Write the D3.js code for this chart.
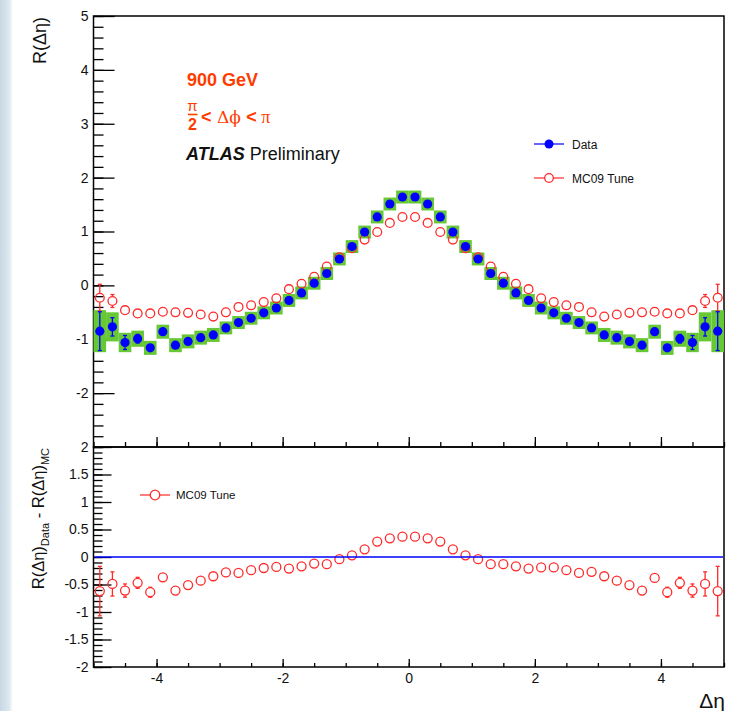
<!DOCTYPE html>
<html>
<head>
<meta charset="utf-8">
<script src="https://cdn.jsdelivr.net/npm/d3@7"></script>
<style>
  html, body { margin: 0; padding: 0; background: #ffffff; }
  svg { display: block; }
  text { font-family: "Liberation Sans", Arial, Helvetica, sans-serif; }
</style>
</head>
<body>
<svg id="chart" width="742" height="711"></svg>
<script>
// ---------------- data ----------------
const binCenters = [-4.9, -4.7, -4.5, -4.3, -4.1, -3.9, -3.7, -3.5, -3.3, -3.1,
  -2.9, -2.7, -2.5, -2.3, -2.1, -1.9, -1.7, -1.5, -1.3, -1.1,
  -0.9, -0.7, -0.5, -0.3, -0.1, 0.1, 0.3, 0.5, 0.7, 0.9,
  1.1, 1.3, 1.5, 1.7, 1.9, 2.1, 2.3, 2.5, 2.7, 2.9,
  3.1, 3.3, 3.5, 3.7, 3.9, 4.1, 4.3, 4.5, 4.7, 4.9];
const binWidth = 0.2;

const dataValues = [-0.85, -0.77, -1.06, -0.99, -1.16, -0.86, -1.11, -1.04, -0.97, -0.92,
  -0.79, -0.69, -0.61, -0.51, -0.42, -0.28, -0.14, 0.04, 0.22, 0.49,
  0.72, 0.99, 1.27, 1.51, 1.64, 1.64, 1.51, 1.27, 0.99, 0.72,
  0.49, 0.22, 0.04, -0.14, -0.28, -0.42, -0.51, -0.61, -0.69, -0.79,
  -0.92, -0.97, -1.04, -1.11, -0.86, -1.16, -0.99, -1.06, -0.77, -0.85];
const dataStatErr = [0.36, 0.17, 0.13, 0.08, 0.05, 0.04, 0.03, 0.03, 0.03, 0.02,
  0.02, 0.02, 0.02, 0.02, 0.02, 0.02, 0.02, 0.02, 0.02, 0.02,
  0.02, 0.02, 0.02, 0.02, 0.02, 0.02, 0.02, 0.02, 0.02, 0.02,
  0.02, 0.02, 0.02, 0.02, 0.02, 0.02, 0.02, 0.02, 0.02, 0.02,
  0.02, 0.03, 0.03, 0.03, 0.04, 0.05, 0.08, 0.13, 0.17, 0.36];
const dataSystErr = [0.39, 0.27, 0.18, 0.15, 0.13, 0.13, 0.13, 0.13, 0.13, 0.13,
  0.12, 0.12, 0.12, 0.12, 0.12, 0.12, 0.12, 0.12, 0.12, 0.12,
  0.12, 0.12, 0.12, 0.12, 0.12, 0.12, 0.12, 0.12, 0.12, 0.12,
  0.12, 0.12, 0.12, 0.12, 0.12, 0.12, 0.12, 0.12, 0.12, 0.12,
  0.13, 0.13, 0.13, 0.13, 0.13, 0.13, 0.15, 0.18, 0.27, 0.39];

const mcValues = [-0.23, -0.29, -0.46, -0.52, -0.52, -0.49, -0.50, -0.51, -0.54, -0.58,
  -0.50, -0.40, -0.37, -0.31, -0.24, -0.07, 0.03, 0.16, 0.35, 0.52,
  0.69, 0.85, 0.99, 1.16, 1.27, 1.27, 1.16, 0.99, 0.85, 0.69,
  0.52, 0.35, 0.16, 0.03, -0.07, -0.24, -0.31, -0.37, -0.40, -0.50,
  -0.58, -0.54, -0.51, -0.50, -0.49, -0.52, -0.52, -0.46, -0.29, -0.23];
const mcErr = [0.25, 0.12, 0.05, 0.04, 0.03, 0.02, 0.02, 0.02, 0.02, 0.02,
  0.02, 0.02, 0.02, 0.02, 0.02, 0.02, 0.02, 0.02, 0.02, 0.02,
  0.02, 0.02, 0.02, 0.02, 0.02, 0.02, 0.02, 0.02, 0.02, 0.02,
  0.02, 0.02, 0.02, 0.02, 0.02, 0.02, 0.02, 0.02, 0.02, 0.02,
  0.02, 0.02, 0.02, 0.02, 0.02, 0.03, 0.04, 0.05, 0.12, 0.25];

const diffValues = [-0.62, -0.49, -0.61, -0.47, -0.64, -0.37, -0.61, -0.51, -0.43, -0.35,
  -0.28, -0.29, -0.24, -0.20, -0.18, -0.21, -0.17, -0.12, -0.13, -0.04,
  0.03, 0.14, 0.28, 0.34, 0.37, 0.37, 0.34, 0.28, 0.14, 0.03,
  -0.04, -0.13, -0.13, -0.17, -0.21, -0.19, -0.19, -0.24, -0.29, -0.27,
  -0.35, -0.43, -0.51, -0.61, -0.38, -0.64, -0.47, -0.61, -0.49, -0.62];
const diffErr = [0.45, 0.22, 0.12, 0.10, 0.09, 0.06, 0.05, 0.04, 0.04, 0.03,
  0.03, 0.03, 0.03, 0.03, 0.03, 0.03, 0.03, 0.03, 0.03, 0.03,
  0.03, 0.03, 0.03, 0.03, 0.03, 0.03, 0.03, 0.03, 0.03, 0.03,
  0.03, 0.03, 0.03, 0.03, 0.03, 0.03, 0.03, 0.03, 0.03, 0.03,
  0.03, 0.04, 0.04, 0.05, 0.06, 0.09, 0.10, 0.12, 0.22, 0.45];

const xTickLabels = [-4, -2, 0, 2, 4];
const topYTickLabels = [5, 4, 3, 2, 1, 0, -1, -2];
const botYTickLabels = [2, 1.5, 1, 0.5, 0, -0.5, -1, -1.5, -2];

// ---------------- setup ----------------
const svg = d3.select("#chart");
const W = 742, H = 711;
const left = 93.5, right = 724;
const topT = 16, topB = 447;
const botT = 447, botB = 667;
const RED = "#ff2a2a", BLUE = "#0000ff", GREEN = "#66c834", ORANGE = "#ff3c00";

// background strip at left edge
const defs = svg.append("defs");
const grad = defs.append("linearGradient").attr("id", "edge").attr("x1", "0").attr("x2", "1").attr("y1", "0").attr("y2", "0");
grad.append("stop").attr("offset", "0%").attr("stop-color", "#c8d8e4");
grad.append("stop").attr("offset", "70%").attr("stop-color", "#dde8ef");
grad.append("stop").attr("offset", "100%").attr("stop-color", "#ffffff");
svg.append("rect").attr("x", 0).attr("y", 0).attr("width", 13).attr("height", H).attr("fill", "url(#edge)");

const x = d3.scaleLinear().domain([-5, 5]).range([left, right]);
const yT = d3.scaleLinear().domain([-3, 5]).range([topB, topT]);
const yB = d3.scaleLinear().domain([-2, 2]).range([botB, botT]);

function fmt(d) { return String(d); }

// ---------------- top panel axes ----------------
const gTop = svg.append("g");
gTop.append("g").attr("transform", `translate(${left},0)`)
  .call(d3.axisLeft(yT).tickValues(d3.range(-30, 51, 2).map(v => v / 10)).tickSize(-10).tickFormat(""))
  .call(g => g.select(".domain").remove());
gTop.append("g").attr("transform", `translate(${left},0)`)
  .call(d3.axisLeft(yT).tickValues(topYTickLabels).tickSize(-21).tickPadding(5).tickFormat(fmt))
  .call(g => g.select(".domain").remove());
gTop.append("g").attr("transform", `translate(0,${topB})`)
  .call(d3.axisBottom(x).tickValues(d3.range(-10, 11, 1).map(v => v / 2)).tickSize(-5).tickFormat(""))
  .call(g => g.select(".domain").remove());
gTop.append("g").attr("transform", `translate(0,${topB})`)
  .call(d3.axisBottom(x).tickValues(xTickLabels).tickSize(-10).tickFormat(""))
  .call(g => g.select(".domain").remove());

// ---------------- bottom panel axes ----------------
const gBot = svg.append("g");
gBot.append("g").attr("transform", `translate(${left},0)`)
  .call(d3.axisLeft(yB).tickValues(d3.range(-20, 21, 1).map(v => v / 10)).tickSize(-9).tickFormat(""))
  .call(g => g.select(".domain").remove());
gBot.append("g").attr("transform", `translate(${left},0)`)
  .call(d3.axisLeft(yB).tickValues(botYTickLabels).tickSize(-18).tickPadding(5).tickFormat(fmt))
  .call(g => g.select(".domain").remove());
gBot.append("g").attr("transform", `translate(0,${botB})`)
  .call(d3.axisBottom(x).tickValues(d3.range(-10, 11, 1).map(v => v / 2)).tickSize(-4).tickFormat(""))
  .call(g => g.select(".domain").remove());
gBot.append("g").attr("transform", `translate(0,${botB})`)
  .call(d3.axisBottom(x).tickValues(xTickLabels).tickSize(-8).tickPadding(6).tickFormat(fmt))
  .call(g => g.select(".domain").remove());

svg.selectAll(".tick line").attr("stroke", "#000").attr("stroke-width", 1.3);
svg.selectAll(".tick text").attr("fill", "#111").attr("font-size", "14px")
  .attr("font-family", "'Liberation Sans', Arial, sans-serif");

// frames
svg.append("rect").attr("x", left).attr("y", topT).attr("width", right - left).attr("height", topB - topT)
  .attr("fill", "none").attr("stroke", "#000").attr("stroke-width", 1.5);
svg.append("rect").attr("x", left).attr("y", botT).attr("width", right - left).attr("height", botB - botT)
  .attr("fill", "none").attr("stroke", "#000").attr("stroke-width", 1.5);

// ---------------- top panel marks ----------------
const pts = binCenters.map((c, i) => ({
  c, d: dataValues[i], ds: dataStatErr[i], sy: dataSystErr[i],
  m: mcValues[i], me: mcErr[i], r: diffValues[i], re: diffErr[i]
}));

const marks = svg.append("g");
marks.selectAll("rect.syst").data(pts).join("rect").attr("class", "syst")
  .attr("x", p => x(p.c - binWidth / 2)).attr("width", p => x(p.c + binWidth / 2) - x(p.c - binWidth / 2))
  .attr("y", p => yT(p.d + p.sy)).attr("height", p => yT(p.d - p.sy) - yT(p.d + p.sy))
  .attr("fill", GREEN);

function errBars(g, data, sx, sy, valKey, errKey, color, r, capW) {
  const gg = g.append("g").attr("stroke", color).attr("stroke-width", 1.3);
  data.forEach(p => {
    const cx = sx(p.c), cy = sy(p[valKey]);
    const yHi = sy(p[valKey] + p[errKey]), yLo = sy(p[valKey] - p[errKey]);
    if (cy - yHi > r) {
      gg.append("line").attr("x1", cx).attr("x2", cx).attr("y1", yHi).attr("y2", cy - r);
      gg.append("line").attr("x1", cx - capW).attr("x2", cx + capW).attr("y1", yHi).attr("y2", yHi);
    }
    if (yLo - cy > r) {
      gg.append("line").attr("x1", cx).attr("x2", cx).attr("y1", cy + r).attr("y2", yLo);
      gg.append("line").attr("x1", cx - capW).attr("x2", cx + capW).attr("y1", yLo).attr("y2", yLo);
    }
  });
}

errBars(marks, pts, x, yT, "m", "me", RED, 4.6, 2);
marks.selectAll("circle.mc").data(pts).join("circle").attr("class", "mc")
  .attr("cx", p => x(p.c)).attr("cy", p => yT(p.m)).attr("r", 4.4)
  .attr("fill", "none").attr("stroke", RED).attr("stroke-width", 1.3);

errBars(marks, pts, x, yT, "d", "ds", BLUE, 4, 2);
marks.selectAll("circle.data").data(pts).join("circle").attr("class", "data")
  .attr("cx", p => x(p.c)).attr("cy", p => yT(p.d)).attr("r", 4.6)
  .attr("fill", BLUE);

// ---------------- bottom panel marks ----------------
svg.append("line").attr("x1", x(-5) + 1).attr("x2", x(5) - 1).attr("y1", yB(0)).attr("y2", yB(0))
  .attr("stroke", BLUE).attr("stroke-width", 1.4);
errBars(marks, pts, x, yB, "r", "re", RED, 4.6, 2);
marks.selectAll("circle.diff").data(pts).join("circle").attr("class", "diff")
  .attr("cx", p => x(p.c)).attr("cy", p => yB(p.r)).attr("r", 4.5)
  .attr("fill", "none").attr("stroke", RED).attr("stroke-width", 1.3);

// ---------------- texts ----------------
svg.append("text").attr("transform", "translate(46,17) rotate(-90)").attr("text-anchor", "end")
  .attr("font-size", "18px").attr("fill", "#111").text("R(Δη)");

const yl2 = svg.append("text").attr("transform", "translate(44,448) rotate(-90)").attr("text-anchor", "end")
  .attr("font-size", "16.5px").attr("fill", "#111");
yl2.append("tspan").text("R(Δη)");
yl2.append("tspan").attr("font-size", "11px").attr("dy", 5).text("Data");
yl2.append("tspan").attr("dy", -5).text(" - R(Δη)");
yl2.append("tspan").attr("font-size", "11px").attr("dy", 5).text("MC");

svg.append("text").attr("x", 725).attr("y", 708).attr("text-anchor", "end")
  .attr("font-family", "'Liberation Serif', 'Times New Roman', serif").attr("font-size", "21px")
  .attr("fill", "#111").text("Δη");

svg.append("text").attr("x", 187).attr("y", 86).attr("font-size", "18px").attr("font-weight", "bold")
  .attr("fill", ORANGE).text("900 GeV");

svg.append("text").attr("x", 192.5).attr("y", 111).attr("text-anchor", "middle")
  .attr("font-family", "'Liberation Serif', serif").attr("font-size", "15px").attr("fill", ORANGE).text("π");
svg.append("line").attr("x1", 188).attr("x2", 197.5).attr("y1", 114.5).attr("y2", 114.5)
  .attr("stroke", ORANGE).attr("stroke-width", 1.6);
svg.append("text").attr("x", 192.5).attr("y", 130).attr("text-anchor", "middle")
  .attr("font-size", "16px").attr("font-weight", "bold").attr("fill", ORANGE).text("2");
const ineq = svg.append("text").attr("x", 201).attr("y", 123).attr("fill", ORANGE).attr("font-size", "18px");
ineq.append("tspan").attr("font-weight", "bold").text("<");
ineq.append("tspan").attr("font-family", "'DejaVu Serif', 'Liberation Serif', serif").attr("font-size", "17px").text(" Δϕ ");
ineq.append("tspan").attr("font-weight", "bold").text("<");
ineq.append("tspan").attr("font-family", "'Liberation Serif', serif").text(" π");

const atl = svg.append("text").attr("x", 186).attr("y", 160).attr("font-size", "18px").attr("fill", "#111");
atl.append("tspan").attr("font-weight", "bold").attr("font-style", "italic").text("ATLAS");
atl.append("tspan").text(" Preliminary");

const leg = svg.append("g");
leg.append("line").attr("x1", 534).attr("x2", 564).attr("y1", 144).attr("y2", 144).attr("stroke", BLUE).attr("stroke-width", 1.2);
leg.append("circle").attr("cx", 549).attr("cy", 144).attr("r", 4.5).attr("fill", BLUE);
leg.append("text").attr("x", 572).attr("y", 148.5).attr("font-size", "12px").attr("fill", "#111").text("Data");
leg.append("line").attr("x1", 534).attr("x2", 564).attr("y1", 178).attr("y2", 178).attr("stroke", RED).attr("stroke-width", 1.2);
leg.append("circle").attr("cx", 549).attr("cy", 178).attr("r", 4.3).attr("fill", "#fff").attr("stroke", RED).attr("stroke-width", 1.3);
leg.append("text").attr("x", 572).attr("y", 182.5).attr("font-size", "12px").attr("fill", "#111").text("MC09 Tune");

leg.append("line").attr("x1", 140).attr("x2", 170).attr("y1", 495).attr("y2", 495).attr("stroke", RED).attr("stroke-width", 1.2);
leg.append("circle").attr("cx", 155).attr("cy", 495).attr("r", 4.8).attr("fill", "#fff").attr("stroke", RED).attr("stroke-width", 1.3);
leg.append("text").attr("x", 176).attr("y", 499).attr("font-size", "11.5px").attr("fill", "#111").text("MC09 Tune");
</script>
</body>
</html>
